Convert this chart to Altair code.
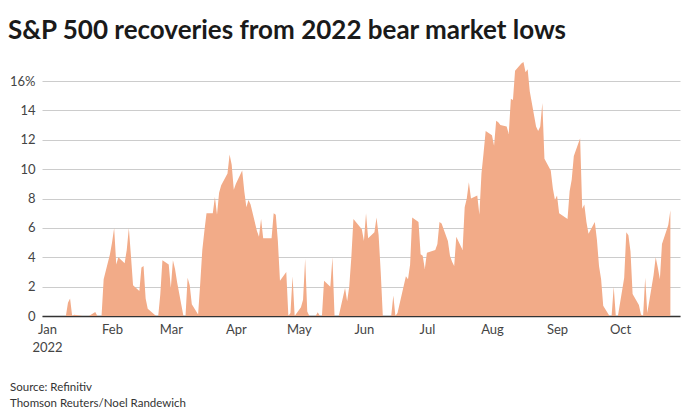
import altair as alt
import pandas as pd

# S&P 500 daily close, % above the lowest close of 2022 so far
dates = [
    "2022-01-03", "2022-01-04", "2022-01-05", "2022-01-06", "2022-01-07",
    "2022-01-10", "2022-01-11", "2022-01-12", "2022-01-13", "2022-01-14",
    "2022-01-18", "2022-01-19", "2022-01-20", "2022-01-21", "2022-01-24",
    "2022-01-25", "2022-01-26", "2022-01-27", "2022-01-28", "2022-01-31",
    "2022-02-01", "2022-02-02", "2022-02-03", "2022-02-04", "2022-02-07",
    "2022-02-08", "2022-02-09", "2022-02-10", "2022-02-11", "2022-02-14",
    "2022-02-15", "2022-02-16", "2022-02-17", "2022-02-18", "2022-02-22",
    "2022-02-23", "2022-02-24", "2022-02-25", "2022-02-28", "2022-03-01",
    "2022-03-02", "2022-03-03", "2022-03-04", "2022-03-07", "2022-03-08",
    "2022-03-09", "2022-03-10", "2022-03-11", "2022-03-14", "2022-03-15",
    "2022-03-16", "2022-03-17", "2022-03-18", "2022-03-21", "2022-03-22",
    "2022-03-23", "2022-03-24", "2022-03-25", "2022-03-28", "2022-03-29",
    "2022-03-30", "2022-03-31", "2022-04-01", "2022-04-04", "2022-04-05",
    "2022-04-06", "2022-04-07", "2022-04-08", "2022-04-11", "2022-04-12",
    "2022-04-13", "2022-04-14", "2022-04-18", "2022-04-19", "2022-04-20",
    "2022-04-21", "2022-04-22", "2022-04-25", "2022-04-26", "2022-04-27",
    "2022-04-28", "2022-04-29", "2022-05-02", "2022-05-03", "2022-05-04",
    "2022-05-05", "2022-05-06", "2022-05-09", "2022-05-10", "2022-05-11",
    "2022-05-12", "2022-05-13", "2022-05-16", "2022-05-17", "2022-05-18",
    "2022-05-19", "2022-05-20", "2022-05-23", "2022-05-24", "2022-05-25",
    "2022-05-26", "2022-05-27", "2022-05-31", "2022-06-01", "2022-06-02",
    "2022-06-03", "2022-06-06", "2022-06-07", "2022-06-08", "2022-06-09",
    "2022-06-10", "2022-06-13", "2022-06-14", "2022-06-15", "2022-06-16",
    "2022-06-17", "2022-06-21", "2022-06-22", "2022-06-23", "2022-06-24",
    "2022-06-27", "2022-06-28", "2022-06-29", "2022-06-30", "2022-07-01",
    "2022-07-05", "2022-07-06", "2022-07-07", "2022-07-08", "2022-07-11",
    "2022-07-12", "2022-07-13", "2022-07-14", "2022-07-15", "2022-07-18",
    "2022-07-19", "2022-07-20", "2022-07-21", "2022-07-22", "2022-07-25",
    "2022-07-26", "2022-07-27", "2022-07-28", "2022-07-29", "2022-08-01",
    "2022-08-02", "2022-08-03", "2022-08-04", "2022-08-05", "2022-08-08",
    "2022-08-09", "2022-08-10", "2022-08-11", "2022-08-12", "2022-08-15",
    "2022-08-16", "2022-08-17", "2022-08-18", "2022-08-19", "2022-08-22",
    "2022-08-23", "2022-08-24", "2022-08-25", "2022-08-26", "2022-08-29",
    "2022-08-30", "2022-08-31", "2022-09-01", "2022-09-02", "2022-09-06",
    "2022-09-07", "2022-09-08", "2022-09-09", "2022-09-12", "2022-09-13",
    "2022-09-14", "2022-09-15", "2022-09-16", "2022-09-19", "2022-09-20",
    "2022-09-21", "2022-09-22", "2022-09-23", "2022-09-26", "2022-09-27",
    "2022-09-28", "2022-09-29", "2022-09-30", "2022-10-03", "2022-10-04",
    "2022-10-05", "2022-10-06", "2022-10-07", "2022-10-10", "2022-10-11",
    "2022-10-12", "2022-10-13", "2022-10-14", "2022-10-17", "2022-10-18",
    "2022-10-19", "2022-10-20", "2022-10-21", "2022-10-24", "2022-10-25",
]

recovery_pct = [
    0, 0, 0, 0, 0,
    0, 0.9, 1.2, 0, 0.08,
    0, 0, 0, 0, 0.28,
    0, 0, 0, 2.5, 4.2,
    5.0, 6.0, 3.5, 4.0, 3.6,
    4.5, 6.0, 4.1, 2.1, 1.7,
    3.3, 3.4, 1.2, 0.5, 0,
    0, 1.5, 3.8, 3.5, 1.9,
    3.8, 3.2, 2.3, 0, 0,
    2.6, 2.1, 0.8, 0.1, 2.2,
    4.5, 5.8, 7.0, 7.0, 8.1,
    6.9, 8.4, 8.9, 9.7, 11.0,
    10.3, 8.6, 9.0, 9.9, 8.5,
    7.4, 7.9, 7.6, 5.8, 5.4,
    6.6, 5.3, 5.3, 7.0, 6.9,
    5.1, 2.4, 3.0, 0, 0.2,
    2.7, 0, 0.6, 1.1, 3.9,
    0.3, 0, 0, 0.25, 0,
    0, 2.4, 2.0, 4.0, 0,
    0, 0, 1.9, 1.0, 2.0,
    4.0, 6.6, 5.9, 5.1, 7.0,
    5.3, 5.7, 6.7, 5.5, 3.0,
    0, 0, 0, 1.4, 0,
    0.2, 2.7, 2.5, 3.5, 6.7,
    6.4, 4.2, 4.1, 3.2, 4.3,
    4.5, 4.9, 6.4, 6.3, 5.1,
    4.1, 3.7, 3.4, 5.4, 4.5,
    7.4, 8.0, 9.1, 8.0, 8.2,
    6.9, 9.7, 11.1, 12.6, 12.3,
    11.6, 13.3, 13.2, 13.0, 12.9,
    12.4, 14.8, 14.7, 16.7, 17.2,
    17.3, 16.6, 16.8, 15.3, 12.9,
    12.6, 12.9, 14.5, 10.7, 9.9,
    8.7, 7.9, 8.2, 7.0, 6.6,
    8.5, 9.3, 10.9, 12.1, 7.3,
    7.6, 6.4, 5.6, 6.4, 5.2,
    3.4, 2.5, 0.7, 0, 0,
    2.0, 0, 0, 2.6, 5.7,
    5.5, 4.4, 1.5, 0.75, 0.1,
    0, 2.6, 0.2, 2.8, 4.0,
    3.3, 2.5, 4.9, 6.2, 7.2,
]

y_ticks = [0, 2, 4, 6, 8, 10, 12, 14, 16]
month_starts = list(range(1, 11))

title_text = "S&P 500 recoveries from 2022 bear market lows"
source_text = "Source: Refinitiv"
credit_text = "Thomson Reuters/Noel Randewich"

df = pd.DataFrame({"date": dates, "pct": recovery_pct})

FONT = "Lato"
FILL = "#F2AB88"

x_scale = alt.Scale(
    type="utc",
    domain=[
        alt.DateTime(year=2021, month=12, date=29, hours=15, utc=True),
        alt.DateTime(year=2022, month=10, date=29, hours=14, utc=True),
    ],
)

area = alt.Chart(df).mark_area(color=FILL, opacity=1, interpolate="linear").encode(
    x=alt.X(
        "date:T",
        scale=x_scale,
        title=None,
        axis=alt.Axis(
            values=[alt.DateTime(year=2022, month=m, date=1, utc=True) for m in month_starts],
            labelExpr=(
                "utcmonth(datum.value) == 0 ? "
                "[utcFormat(datum.value, '%b'), utcFormat(datum.value, '%Y')] : "
                "utcFormat(datum.value, '%b')"
            ),
            grid=False,
            ticks=False,
            domain=True,
            domainColor="#333333",
            domainWidth=1.5,
            labelPadding=7,
            labelFont=FONT,
            labelFontSize=13,
            labelColor="#444444",
            labelLineHeight=18,
            labelFlush=False,
            labelOverlap=False,
        ),
    ),
    y=alt.Y(
        "pct:Q",
        scale=alt.Scale(domain=[0, 16], nice=False, zero=True),
        title=None,
        axis=alt.Axis(
            values=y_ticks,
            labelExpr="datum.value == 16 ? datum.label + '%' : datum.label",
            grid=True,
            gridColor="#cccccc",
            gridWidth=1,
            domain=False,
            ticks=False,
            labelPadding=7,
            labelFont=FONT,
            labelFontSize=13,
            labelColor="#444444",
        ),
    ),
)

title = alt.Chart().mark_text(
    align="left", baseline="alphabetic", font=FONT, fontSize=26,
    fontWeight="bold", color="#1a1a1a",
).encode(x=alt.value(-34), y=alt.value(-42), text=alt.value(title_text))

source = alt.Chart().mark_text(
    align="left", baseline="alphabetic", font=FONT, fontSize=11.5, color="#333333",
).encode(x=alt.value(-32), y=alt.value(310), text=alt.value(source_text))

credit = alt.Chart().mark_text(
    align="left", baseline="alphabetic", font=FONT, fontSize=11.5, color="#333333",
).encode(x=alt.value(-32), y=alt.value(326), text=alt.value(credit_text))

chart = (
    alt.layer(area, title, source, credit)
    .properties(
        width=638,
        height=235,
        autosize=alt.AutoSizeParams(type="none"),
        padding={"left": 42, "top": 81, "right": 12, "bottom": 97},
        background="white",
    )
    .configure_view(stroke=None)
)

chart.save("out.html", embed_options={"renderer": "svg", "actions": False})
